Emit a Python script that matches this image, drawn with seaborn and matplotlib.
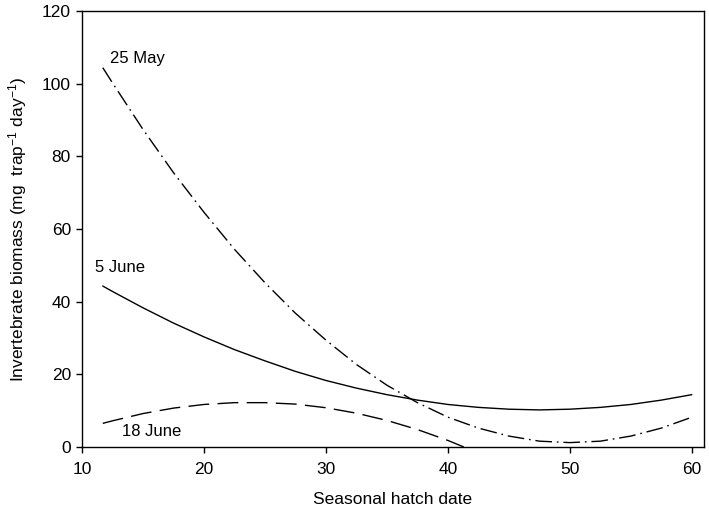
import matplotlib

matplotlib.use("Agg")
import matplotlib.pyplot as plt
import pandas as pd
import seaborn as sns

# values
hatch_may25 = [11.7, 12.5, 15, 17.5, 20, 22.5, 25, 27.5, 30, 32.5, 35, 37.5,
               40, 42.5, 45, 47.5, 50, 52.5, 55, 57.5, 60]
biomass_may25 = [104.4, 100.2, 87.4, 75.5, 64.6, 54.4, 45.2, 36.8, 29.4, 22.7,
                 17.0, 12.2, 8.2, 5.2, 3.0, 1.6, 1.2, 1.6, 3.0, 5.2, 8.2]

hatch_jun05 = hatch_may25
biomass_jun05 = [44.3, 42.8, 38.3, 34.1, 30.3, 26.8, 23.7, 20.8, 18.3, 16.2,
                 14.4, 12.9, 11.7, 10.9, 10.4, 10.2, 10.4, 10.9, 11.7, 12.9, 14.4]

hatch_jun18 = [11.7, 12.5, 15, 17.5, 20, 22.5, 25, 27.5, 30, 32.5, 35, 37.5,
               40, 41.3]
biomass_jun18 = [6.5, 7.2, 9.2, 10.7, 11.7, 12.2, 12.2, 11.8, 10.8, 9.3,
                 7.3, 4.8, 1.8, 0.0]

sns.set_style("ticks")
plt.rcParams["font.family"] = ["Liberation Sans", "DejaVu Sans"]
plt.rcParams["mathtext.default"] = "regular"
plt.rcParams["text.color"] = "black"
plt.rcParams["axes.labelcolor"] = "black"
plt.rcParams["xtick.color"] = "black"
plt.rcParams["ytick.color"] = "black"

fig = plt.figure(figsize=(7.09, 5.12), dpi=100)
ax = fig.add_axes([0.1157, 0.127, 0.8773, 0.8515])

may25 = pd.DataFrame({"x": hatch_may25, "y": biomass_may25})
jun05 = pd.DataFrame({"x": hatch_jun05, "y": biomass_jun05})
jun18 = pd.DataFrame({"x": hatch_jun18, "y": biomass_jun18})

sns.lineplot(data=may25, x="x", y="y", ax=ax, color="black", lw=1.0,
             sort=False, linestyle=(0, (12, 3.5, 1.2, 3.5)))
sns.lineplot(data=jun05, x="x", y="y", ax=ax, color="black", lw=1.0, sort=False)
sns.lineplot(data=jun18, x="x", y="y", ax=ax, color="black", lw=1.0,
             sort=False, linestyle=(0, (15, 6)))

ax.text(12.3, 107, "25 May", fontsize=12, va="center")
ax.text(11.1, 49.5, "5 June", fontsize=12, va="center")
ax.text(13.3, 4.3, "18 June", fontsize=12, va="center")

ax.set_xlim(10, 61)
ax.set_ylim(0, 120)
ax.set_xticks(range(10, 61, 10))
ax.set_yticks(range(0, 121, 20))
ax.tick_params(direction="out", length=4.5, width=1, labelsize=12.5,
               top=False, right=False)
ax.tick_params(axis="x", pad=6)
for s in ax.spines.values():
    s.set_visible(True)
    s.set_linewidth(1.0)
    s.set_color("black")

ax.set_xlabel("Seasonal hatch date", fontsize=12.5, labelpad=11)
ax.set_ylabel("Invertebrate biomass (mg  trap$^{-1}$ day$^{-1}$)",
              fontsize=12.5, labelpad=9)

plt.savefig("out.png", dpi=100)
plt.close()
